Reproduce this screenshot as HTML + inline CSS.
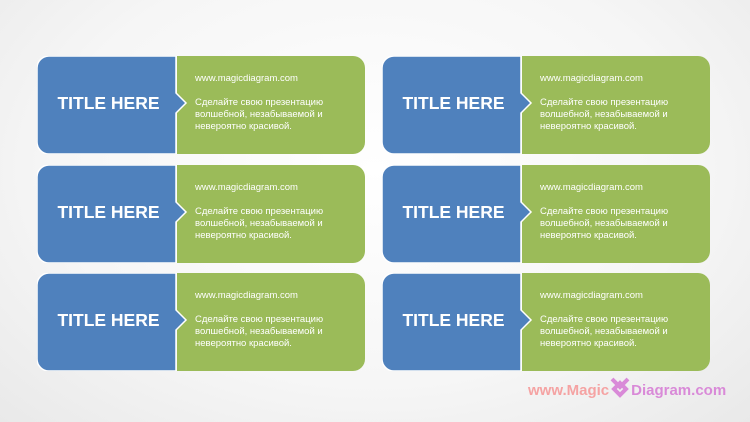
<!DOCTYPE html>
<html><head><meta charset="utf-8"><style>
body{margin:0;width:750px;height:422px;overflow:hidden;background:radial-gradient(ellipse at 50% 40%,#ffffff 0%,#f6f6f6 60%,#e9e9e9 100%);font-family:"Liberation Sans","DejaVu Sans",sans-serif;position:relative}
.c{position:absolute;width:328px;height:98px}
.c svg{position:absolute;left:0;top:0}
.t{position:absolute;left:2px;width:139px;top:37px;text-align:center;color:#fff;font-weight:bold;font-size:17.5px}
.u{position:absolute;left:158px;top:17px;color:#fff;font-size:9.5px}
.b{position:absolute;left:158px;top:41px;color:#fff;font-size:9.5px;line-height:12px}
.wm{position:absolute;left:528px;top:382px;font-weight:bold;font-size:15px;color:#f5a3a3}
</style></head><body>
<div class="c" style="left:37px;top:56px"><svg width="328" height="98"><path d="M140 0H316a12 12 0 0 1 12 12V86a12 12 0 0 1-12 12H140Z" fill="#9bbb59"/><path d="M12 0H139V37L149 47L139 57V98H12A12 12 0 0 1 0 86V12A12 12 0 0 1 12 0Z" fill="#4f81bd" stroke="#fff" stroke-width="1.5"/></svg><div class="t">TITLE HERE</div><div class="u">www.magicdiagram.com</div><div class="b">Сделайте свою презентацию<br>волшебной, незабываемой и<br>невероятно красивой.</div></div>
<div class="c" style="left:382px;top:56px"><svg width="328" height="98"><path d="M140 0H316a12 12 0 0 1 12 12V86a12 12 0 0 1-12 12H140Z" fill="#9bbb59"/><path d="M12 0H139V37L149 47L139 57V98H12A12 12 0 0 1 0 86V12A12 12 0 0 1 12 0Z" fill="#4f81bd" stroke="#fff" stroke-width="1.5"/></svg><div class="t">TITLE HERE</div><div class="u">www.magicdiagram.com</div><div class="b">Сделайте свою презентацию<br>волшебной, незабываемой и<br>невероятно красивой.</div></div>
<div class="c" style="left:37px;top:165px"><svg width="328" height="98"><path d="M140 0H316a12 12 0 0 1 12 12V86a12 12 0 0 1-12 12H140Z" fill="#9bbb59"/><path d="M12 0H139V37L149 47L139 57V98H12A12 12 0 0 1 0 86V12A12 12 0 0 1 12 0Z" fill="#4f81bd" stroke="#fff" stroke-width="1.5"/></svg><div class="t">TITLE HERE</div><div class="u">www.magicdiagram.com</div><div class="b">Сделайте свою презентацию<br>волшебной, незабываемой и<br>невероятно красивой.</div></div>
<div class="c" style="left:382px;top:165px"><svg width="328" height="98"><path d="M140 0H316a12 12 0 0 1 12 12V86a12 12 0 0 1-12 12H140Z" fill="#9bbb59"/><path d="M12 0H139V37L149 47L139 57V98H12A12 12 0 0 1 0 86V12A12 12 0 0 1 12 0Z" fill="#4f81bd" stroke="#fff" stroke-width="1.5"/></svg><div class="t">TITLE HERE</div><div class="u">www.magicdiagram.com</div><div class="b">Сделайте свою презентацию<br>волшебной, незабываемой и<br>невероятно красивой.</div></div>
<div class="c" style="left:37px;top:273px"><svg width="328" height="98"><path d="M140 0H316a12 12 0 0 1 12 12V86a12 12 0 0 1-12 12H140Z" fill="#9bbb59"/><path d="M12 0H139V37L149 47L139 57V98H12A12 12 0 0 1 0 86V12A12 12 0 0 1 12 0Z" fill="#4f81bd" stroke="#fff" stroke-width="1.5"/></svg><div class="t">TITLE HERE</div><div class="u">www.magicdiagram.com</div><div class="b">Сделайте свою презентацию<br>волшебной, незабываемой и<br>невероятно красивой.</div></div>
<div class="c" style="left:382px;top:273px"><svg width="328" height="98"><path d="M140 0H316a12 12 0 0 1 12 12V86a12 12 0 0 1-12 12H140Z" fill="#9bbb59"/><path d="M12 0H139V37L149 47L139 57V98H12A12 12 0 0 1 0 86V12A12 12 0 0 1 12 0Z" fill="#4f81bd" stroke="#fff" stroke-width="1.5"/></svg><div class="t">TITLE HERE</div><div class="u">www.magicdiagram.com</div><div class="b">Сделайте свою презентацию<br>волшебной, незабываемой и<br>невероятно красивой.</div></div>
<div class="wm">www.Magic<span style="display:inline-block;width:22px"></span><span style="color:#d98ad8">Diagram.com</span></div>
<svg style="position:absolute;left:608px;top:375px" width="24" height="26"><path d="M4 4L12 12L20 4M6 14L12 20L18 14L12 8Z" fill="none" stroke="#d98ad8" stroke-width="4"/></svg>
</body></html>
